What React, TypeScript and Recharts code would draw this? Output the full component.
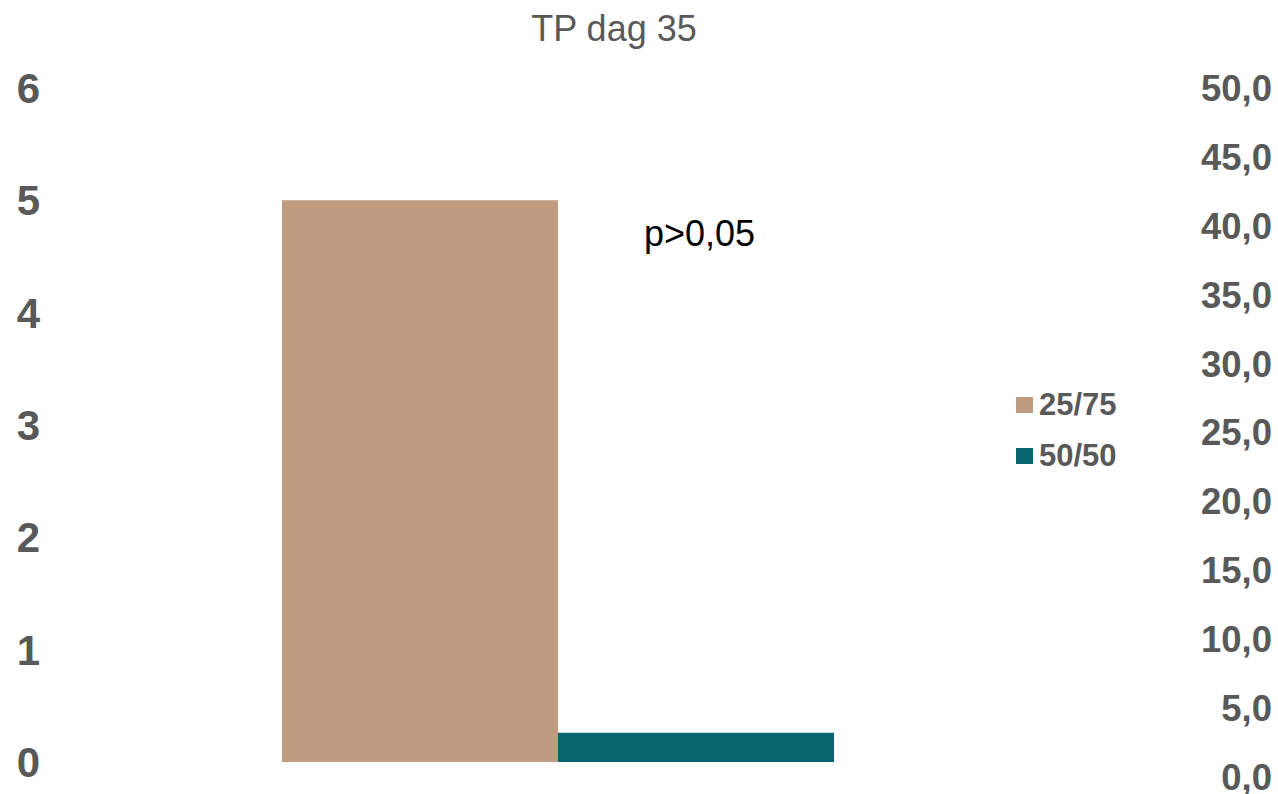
import React from 'react';
import { BarChart, Bar, XAxis, YAxis, Legend } from 'recharts';

const categories = ['TP dag 35'];
const series2575 = [5];
const series5050 = [0.26];
const seriesNames = ['25/75', '50/50'];
const leftTicks = [0, 1, 2, 3, 4, 5, 6];
const rightTicks = [0, 5, 10, 15, 20, 25, 30, 35, 40, 45, 50];
const titleText = 'TP dag 35';
const annotationText = 'p>0,05';

const data = categories.map((name, i) => ({
  name,
  a: series2575[i],
  b: series5050[i],
}));

const FONT = '"Liberation Sans", Arial, Helvetica, sans-serif';
const GRAY = '#595959';
const C1 = '#BF9B80';
const C2 = '#07656F';

const LeftTick = (props: any) => {
  const { x, y, payload } = props;
  return (
    <text x={x} y={y} dy="0.355em" textAnchor="end" fontSize={42} fontWeight="bold" fill={GRAY} fontFamily={FONT}>
      {payload.value}
    </text>
  );
};

const RightTick = (props: any) => {
  const { x, y, payload } = props;
  return (
    <text x={x} y={y} dy="0.355em" textAnchor="end" fontSize={36.5} fontWeight="bold" fill={GRAY} fontFamily={FONT}>
      {Number(payload.value).toFixed(1).replace('.', ',')}
    </text>
  );
};

const LegendContent = (props: any) => {
  const payload = props.payload || [];
  return (
    <div style={{ fontFamily: FONT }}>
      {payload.map((p: any) => (
        <div key={p.value} style={{ display: 'flex', alignItems: 'center', height: 51 }}>
          <div style={{ width: 17, height: 16, background: p.color }} />
          <span style={{ marginLeft: 6, fontSize: 31, fontWeight: 'bold', color: GRAY, lineHeight: '31px' }}>{p.value}</span>
        </div>
      ))}
    </div>
  );
};

export default function App() {
  return (
    <div style={{ position: 'absolute', left: 0, top: 0, width: 1278, height: 794, background: '#fff' }}>
      <BarChart
        width={1278}
        height={794}
        data={data}
        margin={{ top: 88, right: 0, bottom: 17, left: 0 }}
        barCategoryGap={222}
        barGap={0}
      >
        <XAxis dataKey="name" hide />
        <YAxis
          yAxisId="left"
          orientation="left"
          width={60}
          domain={[-0.1335, 6]}
          ticks={leftTicks}
          allowDataOverflow
          axisLine={false}
          tickLine={false}
          tickSize={0}
          tickMargin={20}
          tick={<LeftTick />}
          interval={0}
        />
        <YAxis
          yAxisId="right"
          orientation="right"
          width={222}
          domain={[0, 50]}
          ticks={rightTicks}
          allowDataOverflow
          axisLine={false}
          tickLine={false}
          tickSize={0}
          tickMargin={216}
          tick={<RightTick />}
          interval={0}
        />
        <Legend
          layout="horizontal"
          align="center"
          verticalAlign="middle"
          content={<LegendContent />}
          wrapperStyle={{ left: 1016, top: 379, width: 160, height: 102 }}
        />
        <Bar yAxisId="left" dataKey="a" name={seriesNames[0]} fill={C1} isAnimationActive={false} />
        <Bar yAxisId="left" dataKey="b" name={seriesNames[1]} fill={C2} isAnimationActive={false} />
      </BarChart>
      <div
        style={{
          position: 'absolute',
          left: 414,
          width: 400,
          top: 11,
          textAlign: 'center',
          fontFamily: FONT,
          fontSize: 36,
          lineHeight: '36px',
          color: GRAY,
          whiteSpace: 'nowrap',
        }}
      >
        {titleText}
      </div>
      <div
        style={{
          position: 'absolute',
          left: 644,
          top: 216,
          fontFamily: FONT,
          fontSize: 36,
          lineHeight: '36px',
          color: '#000',
          whiteSpace: 'nowrap',
        }}
      >
        {annotationText}
      </div>
    </div>
  );
}
